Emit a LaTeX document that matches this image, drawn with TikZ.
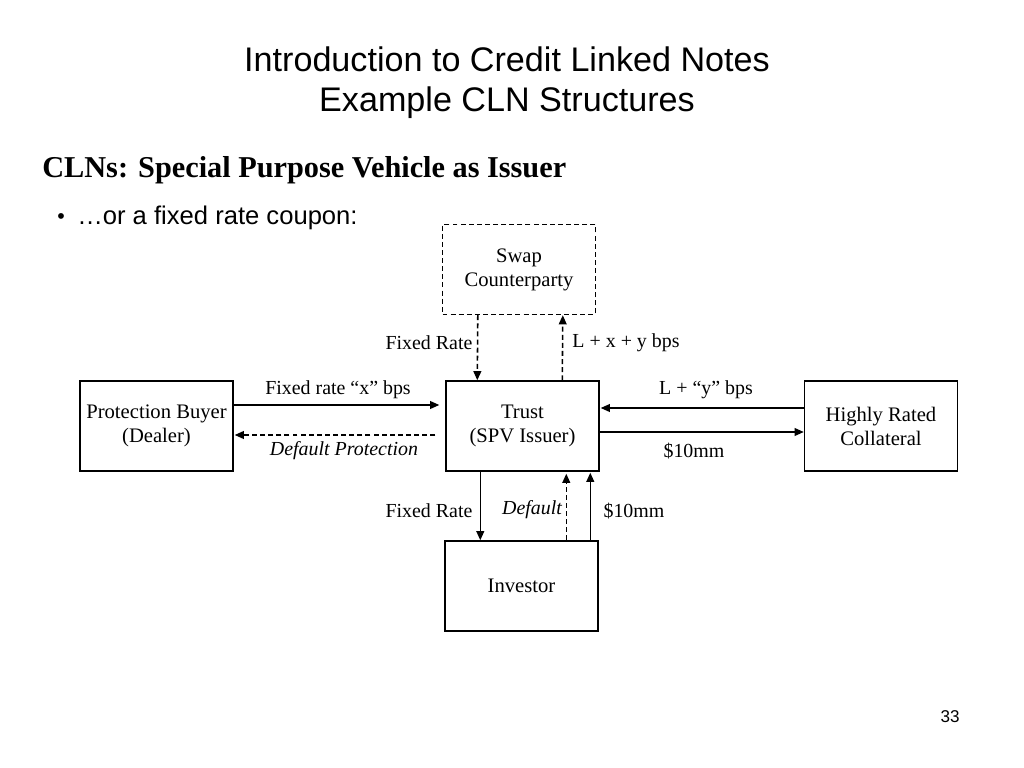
\documentclass[tikz,border=0pt]{standalone}
\usepackage{fontspec}
\setmainfont{Liberation Serif}
\newfontfamily\arialf{Liberation Sans}
\usetikzlibrary{calc,arrows.meta}
\begin{document}
\begin{tikzpicture}[x=0.703125pt,y=-0.703125pt,
  box/.style={draw,line width=1pt,minimum width=153*0.703125pt,minimum height=90*0.703125pt,inner sep=0pt,align=center,font=\fontsize{14.5}{16.8}\selectfont},
  dbox/.style={box,dash pattern=on 3.5pt off 2.2pt},
  lbl/.style={inner sep=0pt,font=\fontsize{14}{16.8}\selectfont},
  flow/.style={line width=1.1pt,-{Triangle[length=6.5pt,width=5.5pt]}},
  dflow/.style={flow,dash pattern=on 3.5pt off 2.2pt}]
\useasboundingbox (0,0) rectangle (1024,768);
% titles
\node[align=center,font=\arialf\fontsize{24}{28}\selectfont,inner sep=0pt] (title) at (507,83) {Introduction to Credit Linked Notes\\Example CLN Structures};
\node[anchor=west,inner sep=0pt,font=\bfseries\fontsize{21.3}{25}\selectfont] (head) at (42,170) {CLNs: Special Purpose Vehicle as Issuer};
\node[inner sep=0pt,font=\arialf\fontsize{15}{18}\selectfont] (bul) at (61,219) {•};
\node[anchor=west,inner sep=0pt,font=\arialf\fontsize{18}{21}\selectfont] (btxt) at (77,218) {…or a fixed rate coupon:};
\node[inner sep=0pt,font=\arialf\fontsize{12}{14}\selectfont] (pg) at (950,717) {33};
% boxes
\node[dbox] (swap) at (519,269.5) {Swap\\Counterparty};
\node[box] (trust) at (522.5,426) {Trust\\(SPV Issuer)};
\node[box] (pb) at (156.5,426) {Protection Buyer\\(Dealer)};
\node[box] (hrc) at (881,426) {Highly Rated\\Collateral};
\node[box] (inv) at (521.5,586) {Investor};
% connectors
\draw[dflow] ($(swap.south west)+(36,0)$) -- ($(trust.north west)+(32,0)$);
\draw[dflow] ($(trust.north west)+(117,0)$) -- ($(swap.south west)+(121,0)$);
\draw[flow] ($(pb.east)+(0,-21)$) -- ($(trust.west)+(-6,-21)$);
\draw[dflow] ($(trust.west)+(-10,9)$) -- ($(pb.east)+(1,9)$);
\draw[flow] ($(hrc.west)+(0,-18)$) -- ($(trust.east)+(1,-18)$);
\draw[flow] ($(trust.east)+(0,6)$) -- ($(hrc.west)+(0,6)$);
\draw[flow] ($(trust.south west)+(35,0)$) -- ($(inv.north west)+(36,0)$);
\draw[dflow] ($(inv.north west)+(122,0)$) -- ($(trust.south west)+(121,2)$);
\draw[flow] ($(inv.north west)+(146,0)$) -- ($(trust.south west)+(145,1)$);
% labels
\node[lbl] (l1) at (429,343) {Fixed Rate};
\node[lbl] (l2) at (626,343) {L + x + y bps};
\node[lbl] (l3) at (338,390) {Fixed rate “x” bps};
\node[lbl,font=\itshape\fontsize{14}{16.8}\selectfont] (l4) at (344,451) {Default Protection};
\node[lbl] (l5) at (706,390) {L + “y” bps};
\node[lbl] (l6) at (694,451) {\$10mm};
\node[lbl] (l7) at (429,511) {Fixed Rate};
\node[lbl,font=\itshape\fontsize{14}{16.8}\selectfont] (l8) at (532,510) {Default};
\node[lbl] (l9) at (634,511) {\$10mm};
\end{tikzpicture}
\end{document}
